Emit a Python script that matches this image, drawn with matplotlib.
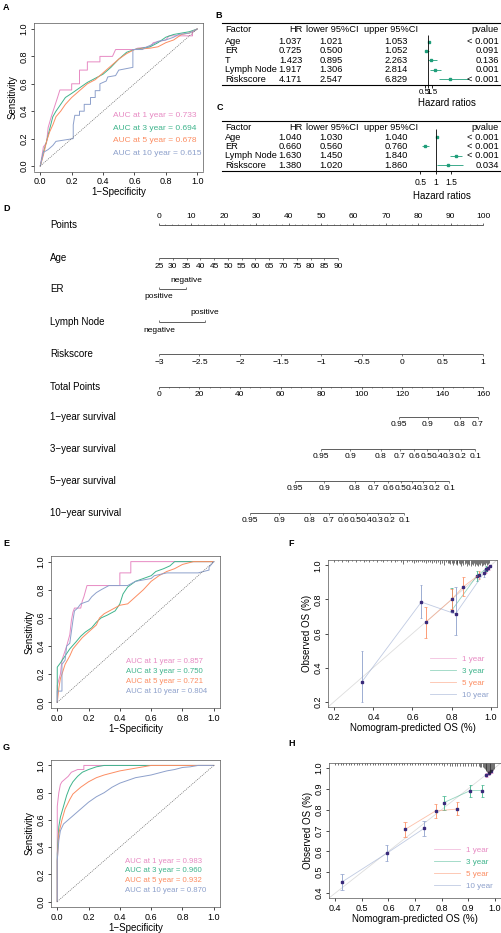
import numpy as np
import matplotlib
matplotlib.use("Agg")
import matplotlib.pyplot as plt
from matplotlib.lines import Line2D

plt.rcParams['font.family'] = ['Liberation Sans', 'DejaVu Sans']
plt.rcParams['axes.linewidth'] = 0.6

W, H = 502, 933
fig = plt.figure(figsize=(W / 100, H / 100), dpi=100)

COLS = {"1": "#E78AC3", "3": "#3FB48C", "5": "#FC8D62", "10": "#8DA0CB"}
TEAL = "#1F9E7A"

# ---------------- data ----------------
# ROC A (training cohort, riskscore)
a_fpr_1 = [0, 0.01, 0.02, 0.04, 0.05, 0.07, 0.09, 0.11, 0.125, 0.20, 0.20, 0.25, 0.25, 0.30, 0.30, 0.38, 0.38, 0.46, 0.48, 0.60, 0.62, 0.70, 0.72, 0.80, 0.82, 0.97, 0.97, 1]
a_tpr_1 = [0, 0.07, 0.14, 0.17, 0.28, 0.36, 0.43, 0.50, 0.555, 0.555, 0.60, 0.60, 0.70, 0.70, 0.76, 0.76, 0.80, 0.80, 0.85, 0.85, 0.86, 0.87, 0.90, 0.92, 0.95, 0.95, 0.98, 1]
a_fpr_3 = [0, 0.02, 0.04, 0.06, 0.08, 0.10, 0.13, 0.16, 0.20, 0.25, 0.30, 0.35, 0.40, 0.45, 0.50, 0.55, 0.60, 0.70, 0.75, 0.80, 0.85, 0.90, 0.95, 1]
a_tpr_3 = [0, 0.10, 0.18, 0.27, 0.36, 0.40, 0.45, 0.50, 0.53, 0.57, 0.61, 0.64, 0.67, 0.72, 0.78, 0.83, 0.85, 0.87, 0.90, 0.94, 0.96, 0.97, 0.98, 1]
a_fpr_5 = [0, 0.02, 0.04, 0.06, 0.08, 0.10, 0.13, 0.16, 0.20, 0.25, 0.30, 0.35, 0.40, 0.45, 0.50, 0.55, 0.60, 0.70, 0.75, 0.80, 0.85, 0.90, 0.95, 1]
a_tpr_5 = [0, 0.08, 0.18, 0.25, 0.30, 0.36, 0.40, 0.45, 0.50, 0.55, 0.60, 0.63, 0.68, 0.73, 0.78, 0.82, 0.85, 0.86, 0.87, 0.90, 0.92, 0.96, 0.97, 1]
a_fpr_10 = [0, 0.01, 0.02, 0.05, 0.08, 0.10, 0.21, 0.21, 0.22, 0.25, 0.25, 0.28, 0.28, 0.32, 0.32, 0.35, 0.35, 0.38, 0.38, 0.42, 0.43, 0.48, 0.50, 0.59, 0.59, 0.65, 0.68, 0.72, 0.75, 0.80, 0.85, 0.88, 0.95, 1]
a_tpr_10 = [0, 0.05, 0.10, 0.12, 0.15, 0.18, 0.20, 0.30, 0.37, 0.37, 0.40, 0.40, 0.45, 0.45, 0.50, 0.50, 0.55, 0.55, 0.60, 0.62, 0.65, 0.66, 0.70, 0.72, 0.85, 0.85, 0.87, 0.89, 0.91, 0.92, 0.94, 0.96, 0.97, 1]
a_auc = ["0.733", "0.694", "0.678", "0.615"]

# ROC E
e_fpr_1 = [0, 0, 0.02, 0.03, 0.06, 0.08, 0.09, 0.10, 0.11, 0.15, 0.16, 0.17, 0.19, 0.40, 0.40, 0.47, 0.47, 1]
e_tpr_1 = [0, 0.12, 0.20, 0.30, 0.40, 0.48, 0.58, 0.64, 0.67, 0.67, 0.72, 0.75, 0.83, 0.83, 0.92, 0.92, 1.0, 1]
e_fpr_3 = [0, 0, 0.02, 0.05, 0.08, 0.12, 0.15, 0.18, 0.22, 0.25, 0.28, 0.32, 0.37, 0.40, 0.42, 0.45, 0.50, 0.55, 0.60, 0.63, 0.68, 0.72, 0.75, 1]
e_tpr_3 = [0, 0.25, 0.28, 0.33, 0.38, 0.43, 0.47, 0.50, 0.53, 0.57, 0.60, 0.62, 0.65, 0.70, 0.77, 0.82, 0.86, 0.88, 0.90, 0.93, 0.95, 0.97, 1.0, 1]
e_fpr_5 = [0, 0.01, 0.02, 0.03, 0.05, 0.08, 0.10, 0.13, 0.16, 0.20, 0.25, 0.27, 0.30, 0.35, 0.40, 0.45, 0.50, 0.55, 0.60, 0.65, 0.70, 0.75, 0.80, 0.87, 1]
e_tpr_5 = [0, 0.10, 0.17, 0.20, 0.27, 0.33, 0.38, 0.42, 0.46, 0.50, 0.55, 0.60, 0.63, 0.66, 0.69, 0.70, 0.75, 0.80, 0.86, 0.90, 0.93, 0.95, 0.98, 1.0, 1]
e_fpr_10 = [0, 0, 0.03, 0.03, 0.05, 0.06, 0.08, 0.09, 0.10, 0.11, 0.13, 0.15, 0.20, 0.22, 0.25, 0.28, 0.33, 0.45, 0.50, 0.55, 0.60, 0.62, 0.70, 0.80, 0.90, 0.97, 0.97, 1]
e_tpr_10 = [0, 0.08, 0.08, 0.27, 0.30, 0.40, 0.42, 0.50, 0.58, 0.65, 0.67, 0.70, 0.72, 0.75, 0.78, 0.80, 0.83, 0.83, 0.86, 0.87, 0.88, 0.90, 0.92, 0.92, 0.92, 0.94, 0.96, 1]
e_auc = ["0.857", "0.750", "0.721", "0.804"]

# ROC G
g_fpr_1 = [0, 0, 0.01, 0.02, 0.03, 0.05, 0.07, 0.09, 0.13, 0.17, 0.17, 1]
g_tpr_1 = [0, 0.70, 0.80, 0.86, 0.88, 0.90, 0.92, 0.95, 0.97, 0.97, 1.0, 1]
g_fpr_3 = [0, 0, 0.01, 0.02, 0.04, 0.06, 0.08, 0.10, 0.13, 0.16, 0.20, 0.25, 0.30, 1]
g_tpr_3 = [0, 0.35, 0.55, 0.62, 0.70, 0.78, 0.84, 0.88, 0.92, 0.95, 0.97, 0.99, 1.0, 1]
g_fpr_5 = [0, 0, 0.01, 0.03, 0.05, 0.08, 0.10, 0.15, 0.20, 0.25, 0.30, 0.35, 0.40, 0.45, 0.50, 0.55, 0.60, 1]
g_tpr_5 = [0, 0.30, 0.50, 0.60, 0.68, 0.75, 0.79, 0.84, 0.88, 0.91, 0.93, 0.945, 0.96, 0.97, 0.98, 0.99, 1.0, 1]
g_fpr_10 = [0, 0, 0.01, 0.02, 0.04, 0.07, 0.10, 0.15, 0.20, 0.25, 0.30, 0.35, 0.40, 0.45, 0.50, 0.55, 0.60, 0.65, 0.70, 0.75, 0.80, 0.85, 0.90, 1]
g_tpr_10 = [0, 0.30, 0.45, 0.52, 0.57, 0.60, 0.63, 0.68, 0.73, 0.77, 0.80, 0.84, 0.87, 0.89, 0.91, 0.92, 0.93, 0.945, 0.96, 0.97, 0.985, 0.99, 1.0, 1]
g_auc = ["0.983", "0.960", "0.932", "0.870"]

# Cox tables
b_factor = ["Age", "ER", "T", "Lymph Node", "Riskscore"]
b_hr = [1.037, 0.725, 1.423, 1.917, 4.171]
b_lo = [1.021, 0.500, 0.895, 1.306, 2.547]
b_hi = [1.053, 1.052, 2.263, 2.814, 6.829]
b_p = ["< 0.001", "0.091", "0.136", "0.001", "< 0.001"]

c_factor = ["Age", "ER", "Lymph Node", "Riskscore"]
c_hr = [1.040, 0.660, 1.630, 1.380]
c_lo = [1.030, 0.560, 1.450, 1.020]
c_hi = [1.040, 0.760, 1.840, 1.860]
c_p = ["< 0.001", "< 0.001", "< 0.001", "0.034"]
hr_ticks = [0.5, 1, 1.5]

# Nomogram
points_ticks = list(range(0, 101, 10))
age_ticks = list(range(25, 91, 5))
age_pts = [0, 55.3]           # points at age 25 and 90
er_levels = ["positive", "negative"]
er_pts = [0, 8.3]
ln_levels = ["negative", "positive"]
ln_pts = [0, 14.2]
risk_ticks = [-3, -2.5, -2, -1.5, -1, -0.5, 0, 0.5, 1]
risk_labels = ["\u22123", "\u22122.5", "\u22122", "\u22121.5", "\u22121", "\u22120.5", "0", "0.5", "1"]
risk_pts = [0, 100]
total_ticks = list(range(0, 161, 20))
surv1_lab = ["0.95", "0.9", "0.8", "0.7"]
surv1_tp = [118.5, 132.8, 148.6, 157.5]
surv_lab = ["0.95", "0.9", "0.8", "0.7", "0.6", "0.5", "0.4", "0.3", "0.2", "0.1"]
surv3_tp = [80.0, 94.4, 109.4, 118.8, 126.0, 132.1, 137.7, 143.1, 148.9, 156.1]
surv5_tp = [67.2, 81.6, 96.6, 106.0, 113.2, 119.3, 124.9, 130.3, 136.1, 143.3]
surv10_tp = [45.0, 59.4, 74.4, 83.8, 91.0, 97.1, 102.7, 108.1, 113.9, 121.1]

# Calibration F (pred, obs, lower, upper)
f_pred_1 = [0.975, 0.988, 0.996]
f_obs_1 = [0.972, 0.985, 0.996]
f_lo_1 = [0.955, 0.975, 0.99]
f_hi_1 = [0.99, 0.995, 1.0]
f_pred_3 = [0.80, 0.93, 0.975]
f_obs_3 = [0.735, 0.94, 0.98]
f_lo_3 = [0.73, 0.91, 0.965]
f_hi_3 = [0.865, 0.965, 0.995]
f_pred_5 = [0.667, 0.80, 0.86, 0.94]
f_obs_5 = [0.665, 0.80, 0.875, 0.945]
f_lo_5 = [0.575, 0.745, 0.82, 0.92]
f_hi_5 = [0.755, 0.86, 0.935, 0.97]
f_pred_10 = [0.342, 0.645, 0.82, 0.965]
f_obs_10 = [0.317, 0.785, 0.715, 0.955]
f_lo_10 = [0.20, 0.69, 0.59, 0.935]
f_hi_10 = [0.50, 0.885, 0.875, 0.975]
f_rug = [0.20, 0.22, 0.24, 0.26, 0.27, 0.29, 0.31, 0.33, 0.35, 0.36, 0.38, 0.40, 0.42, 0.44, 0.45, 0.47, 0.49, 0.51,
         0.52, 0.54, 0.55, 0.57, 0.58, 0.60, 0.61, 0.62, 0.63, 0.64, 0.65, 0.66, 0.67, 0.68, 0.69, 0.70, 0.71, 0.72,
         0.73, 0.74, 0.75, 0.76, 0.77, 0.78, 0.785, 0.79, 0.80, 0.805, 0.81, 0.82, 0.825, 0.83, 0.84, 0.845, 0.85,
         0.855, 0.86, 0.87, 0.875, 0.88, 0.885, 0.89, 0.90, 0.905, 0.91, 0.915, 0.92, 0.925, 0.93, 0.935, 0.94,
         0.945, 0.95, 0.955, 0.96, 0.965, 0.97, 0.975, 0.98, 0.985, 0.99]
f_rug_len = [0.010, 0.008, 0.010, 0.008, 0.010, 0.008, 0.010, 0.008, 0.010, 0.008, 0.010, 0.008, 0.012, 0.008, 0.010,
             0.008, 0.012, 0.010, 0.008, 0.012, 0.022, 0.010, 0.008, 0.012, 0.020, 0.010, 0.012, 0.008, 0.012, 0.010,
             0.015, 0.012, 0.010, 0.015, 0.012, 0.020, 0.012, 0.025, 0.015, 0.030, 0.012, 0.020, 0.015, 0.025, 0.015,
             0.030, 0.020, 0.025, 0.015, 0.030, 0.020, 0.025, 0.035, 0.020, 0.030, 0.025, 0.020, 0.035, 0.025, 0.030,
             0.035, 0.025, 0.030, 0.020, 0.035, 0.025, 0.030, 0.035, 0.025, 0.030, 0.020, 0.035, 0.030, 0.025, 0.030,
             0.020, 0.030, 0.025, 0.020]

# Calibration H
h_pred_1 = [0.968, 0.978, 0.988]
h_obs_1 = [0.965, 0.975, 0.985]
h_lo_1 = [0.955, 0.965, 0.978]
h_hi_1 = [0.975, 0.985, 0.992]
h_pred_3 = [0.809, 0.909, 0.953]
h_obs_3 = [0.834, 0.892, 0.892]
h_lo_3 = [0.80, 0.863, 0.863]
h_hi_3 = [0.866, 0.92, 0.92]
h_pred_5 = [0.6625, 0.7775, 0.859]
h_obs_5 = [0.705, 0.794, 0.803]
h_lo_5 = [0.67, 0.762, 0.775]
h_hi_5 = [0.742, 0.828, 0.836]
h_pred_10 = [0.425, 0.593, 0.734]
h_obs_10 = [0.453, 0.59, 0.71]
h_lo_10 = [0.413, 0.553, 0.675]
h_hi_10 = [0.493, 0.63, 0.747]
h_rug = [0.40, 0.41, 0.42, 0.43, 0.44, 0.45, 0.46, 0.47, 0.48, 0.49, 0.50, 0.51, 0.52, 0.53, 0.54, 0.55, 0.56, 0.57,
         0.58, 0.59, 0.60, 0.61, 0.62, 0.63, 0.64, 0.65, 0.66, 0.67, 0.68, 0.69, 0.70, 0.71, 0.72, 0.73, 0.74, 0.75,
         0.76, 0.77, 0.78, 0.79, 0.80, 0.81, 0.82, 0.83, 0.84, 0.85, 0.86, 0.87, 0.88, 0.89, 0.90, 0.91, 0.92, 0.93,
         0.94, 0.945, 0.95, 0.955, 0.96, 0.963, 0.966, 0.969, 0.972, 0.975, 0.978, 0.981, 0.984, 0.987, 0.99, 0.993,
         0.996]
h_rug_len = [0.008] * 40 + [0.010, 0.012, 0.010, 0.012, 0.015, 0.012, 0.015, 0.012, 0.015, 0.012, 0.015, 0.012, 0.015,
                            0.015, 0.015, 0.018, 0.018, 0.020, 0.025, 0.030, 0.035, 0.040, 0.045, 0.050, 0.052, 0.050,
                            0.048, 0.045, 0.040, 0.035, 0.030]


def ax_px(l, t, r, b):
    return fig.add_axes([l / W, 1 - b / H, (r - l) / W, (b - t) / H])


def ftxt(x, y, s, **kw):
    fig.text(x / W, 1 - y / H, s, **kw)


def fline(x0, x1, y, lw=0.8):
    fig.add_artist(Line2D([x0 / W, x1 / W], [1 - y / H, 1 - y / H], color="black", lw=lw))


def r_style(ax, xlim, ylim, xticks, yticks, fmt="{:.1f}", fs=6.5):
    ax.set_xlim(*xlim)
    ax.set_ylim(*ylim)
    ax.set_xticks(xticks)
    ax.set_yticks(yticks)
    ax.set_xticklabels([fmt.format(v) for v in xticks], fontsize=fs)
    ax.set_yticklabels([fmt.format(v) for v in yticks], fontsize=fs, rotation=90, va="center")
    ax.tick_params(length=2.5, width=0.5, pad=1.5)
    for s in ax.spines.values():
        s.set_linewidth(0.5)
        s.set_color("#555555")


def roc_panel(ax, curves, aucs, tx, ty, dy, fs):
    keys = ["1", "3", "5", "10"]
    for (fx, fy), k in zip(curves, keys):
        ax.plot(fx, fy, color=COLS[k], lw=0.7)
    ax.plot([0, 1], [0, 1], ls=(0, (1.5, 1.5)), color="#666666", lw=0.5)
    for i, (k, a) in enumerate(zip(keys, aucs)):
        ax.text(tx, ty - i * dy, f"AUC at {k} year = {a}", color=COLS[k], fontsize=fs, va="center")
    r_style(ax, (-0.04, 1.04), (-0.04, 1.04), np.arange(0, 1.01, 0.2), np.arange(0, 1.01, 0.2))
    ax.set_xlabel("1\u2212Specificity", fontsize=7, labelpad=1)
    ax.set_ylabel("Sensitivity", fontsize=7, labelpad=1)


# ---------------- A ----------------
ax = ax_px(34, 23.5, 203.5, 171.5)
roc_panel(ax, [(a_fpr_1, a_tpr_1), (a_fpr_3, a_tpr_3), (a_fpr_5, a_tpr_5), (a_fpr_10, a_tpr_10)],
          a_auc, 0.465, 0.37, 0.093, 6)
ftxt(3, 8, "A", fontsize=6.5, fontweight="bold", va="center")

# ---------------- E ----------------
ax = ax_px(51, 556, 220, 708)
roc_panel(ax, [(e_fpr_1, e_tpr_1), (e_fpr_3, e_tpr_3), (e_fpr_5, e_tpr_5), (e_fpr_10, e_tpr_10)],
          e_auc, 0.44, 0.288, 0.071, 5.6)
ftxt(3, 544, "E", fontsize=6.5, fontweight="bold", va="center")

# ---------------- G ----------------
ax = ax_px(51, 760, 220, 907)
roc_panel(ax, [(g_fpr_1, g_tpr_1), (g_fpr_3, g_tpr_3), (g_fpr_5, g_tpr_5), (g_fpr_10, g_tpr_10)],
          g_auc, 0.435, 0.296, 0.071, 5.6)
ftxt(3, 747, "G", fontsize=6.5, fontweight="bold", va="center")


# ---------------- B / C forest tables ----------------
def forest_table(top, row_y, factors, hr, lo, hi, pv, fx0, fx1, xlim, vtop, tpad, lpad, tfs):
    fs = 6.7
    fline(222, 501, top)
    bottom = row_y[-1] + 6
    fline(222, 501, bottom)
    hy = top + 6
    ftxt(225, hy, "Factor", fontsize=fs, va="center")
    ftxt(302, hy, "HR", fontsize=fs, va="center", ha="right")
    ftxt(332, hy, "lower 95%CI", fontsize=fs, va="center", ha="center")
    ftxt(391, hy, "upper 95%CI", fontsize=fs, va="center", ha="center")
    ftxt(499, hy, "pvalue", fontsize=fs, va="center", ha="right")
    for y, f, h, l, u, p in zip(row_y, factors, hr, lo, hi, pv):
        ftxt(225, y, f, fontsize=fs, va="center")
        ftxt(302, y, f"{h:.3f}", fontsize=fs, va="center", ha="right")
        ftxt(331, y, f"{l:.3f}", fontsize=fs, va="center", ha="center")
        ftxt(396, y, f"{u:.3f}", fontsize=fs, va="center", ha="center")
        ftxt(499, y, p, fontsize=fs, va="center", ha="right")
    fa = ax_px(fx0, top, fx1, bottom)
    fa.set_xlim(*xlim)
    fa.set_ylim(bottom, top)
    fa.hlines(row_y, lo, hi, color=TEAL, lw=0.6)
    fa.plot(hr, row_y, "s", color=TEAL, ms=2)
    fa.vlines(1, vtop, bottom, color="black", lw=0.6)
    for s in ["top", "left", "right", "bottom"]:
        fa.spines[s].set_visible(False)
    fa.set_yticks([])
    fa.set_xticks(hr_ticks)
    fa.set_xticklabels(["0.5", "1", "1.5"], fontsize=tfs)
    fa.tick_params(axis="x", length=2.5, width=0.6, pad=tpad)
    fa.set_xlabel("Hazard ratios", fontsize=7, labelpad=lpad)
    fa.patch.set_alpha(0)


forest_table(23.3, [41.7, 50.7, 60.3, 70, 79.3], b_factor, b_hr, b_lo, b_hi, b_p,
             415, 478, (1 - 13.3 / 7, 1 + 49.7 / 7), 35, 0.3, 1.5, 5.8)
ftxt(215, 15, "B", fontsize=6.5, fontweight="bold", va="center")
forest_table(121, [137, 146.5, 156, 165.3], c_factor, c_hr, c_lo, c_hi, c_p,
             405, 478, (1 - 31 / 31, 1 + 42 / 31), 129, 2.5, 2.5, 6.2)
ftxt(217, 108, "C", fontsize=6.5, fontweight="bold", va="center")

# ---------------- D nomogram ----------------
nd = ax_px(0, 200, W, 530)
ppx = 3.24
nd.set_xlim(-159 / ppx, (W - 159) / ppx)
nd.set_ylim(530, 200)
nd.axis("off")
lab_fs = 7
tk_fs = 6
LC = "#444444"


def nomo_axis(y, pos, labels, minor=None, up=False, lab_off=8):
    nd.hlines(y, min(pos), max(pos), color=LC, lw=0.6)
    d = -2.2 if up else 2.2
    nd.vlines(pos, y, y + d, color=LC, lw=0.5)
    if minor is not None:
        nd.vlines(minor, y, y + d * 0.55, color=LC, lw=0.4)
    for p, s in zip(pos, labels):
        nd.text(p, y - lab_off if up else y + lab_off, s, fontsize=tk_fs, ha="center", va="center")


rows = {"Points": 225, "Age": 258, "ER": 289, "Lymph Node": 322, "Riskscore": 354, "Total Points": 387,
        "1\u2212year survival": 417, "3\u2212year survival": 449, "5\u2212year survival": 481,
        "10\u2212year survival": 513}
for name, y in rows.items():
    nd.text(-109 / ppx, y, name, fontsize=lab_fs, va="center", ha="left")

nomo_axis(rows["Points"], points_ticks, [str(v) for v in points_ticks], minor=np.arange(0, 101, 2), up=True)
apos = np.interp(age_ticks, [age_ticks[0], age_ticks[-1]], age_pts)
nomo_axis(rows["Age"], apos, [str(v) for v in age_ticks])
# ER
y = rows["ER"]
nd.hlines(y, er_pts[0], er_pts[1], color=LC, lw=0.6)
nd.vlines(er_pts, y, y - 1.8, color=LC, lw=0.5)
nd.text(er_pts[1], y - 8, er_levels[1], fontsize=tk_fs, ha="center", va="center")
nd.text(er_pts[0], y + 8, er_levels[0], fontsize=tk_fs, ha="center", va="center")
# Lymph node
y = rows["Lymph Node"]
nd.hlines(y, ln_pts[0], ln_pts[1], color=LC, lw=0.6)
nd.vlines(ln_pts, y, y - 1.8, color=LC, lw=0.5)
nd.text(ln_pts[1], y - 9, ln_levels[1], fontsize=tk_fs, ha="center", va="center")
nd.text(ln_pts[0], y + 8, ln_levels[0], fontsize=tk_fs, ha="center", va="center")
rpos = np.interp(risk_ticks, [risk_ticks[0], risk_ticks[-1]], risk_pts)
nomo_axis(rows["Riskscore"], rpos, risk_labels)
tpos = np.array(total_ticks) * 100 / 160
nomo_axis(rows["Total Points"], tpos, [str(v) for v in total_ticks], minor=np.arange(0, 161, 5) * 100 / 160)
for key, tp, labs in [("1", surv1_tp, surv1_lab), ("3", surv3_tp, surv_lab),
                      ("5", surv5_tp, surv_lab), ("10", surv10_tp, surv_lab)]:
    nomo_axis(rows[f"{key}\u2212year survival"], np.array(tp) * 100 / 160, labs)
ftxt(3, 208, "D", fontsize=6.5, fontweight="bold", va="center")


# ---------------- F / H calibration ----------------
def calib_panel(ax, series, rug, rug_len, lims, ticks, fmt):
    keys = ["1", "3", "5", "10"]
    ax.plot(lims, lims, color="#dddddd", lw=0.6)
    for (p, o, l, u), k in zip(series, keys):
        ax.plot(p, o, color=COLS[k], lw=0.6, alpha=0.55, label=f"{k} year")
        ax.vlines(p, l, u, color=COLS[k], lw=0.6)
        ax.hlines(l, np.array(p) - 0.006, np.array(p) + 0.006, color=COLS[k], lw=0.5)
        ax.hlines(u, np.array(p) - 0.006, np.array(p) + 0.006, color=COLS[k], lw=0.5)
        ax.plot(p, o, "s", color="#3a2a7a", ms=2)
    top = lims[1]
    ax.vlines(rug, top - np.array(rug_len), top, color="#222222", lw=0.45)
    r_style(ax, lims, lims, ticks, ticks, fmt=fmt, fs=6.5)
    ax.legend(loc="lower right", frameon=False, fontsize=5.8, handlelength=3.2, labelspacing=0.55,
              borderaxespad=0.6, labelcolor="linecolor")
    ax.set_xlabel("Nomogram-predicted OS (%)", fontsize=7, labelpad=1)
    ax.set_ylabel("Observed OS (%)", fontsize=7, labelpad=1)


ax = ax_px(328, 560, 497, 707)
calib_panel(ax, [(f_pred_1, f_obs_1, f_lo_1, f_hi_1), (f_pred_3, f_obs_3, f_lo_3, f_hi_3),
                 (f_pred_5, f_obs_5, f_lo_5, f_hi_5), (f_pred_10, f_obs_10, f_lo_10, f_hi_10)],
            f_rug, f_rug_len, (0.168, 1.032), [0.2, 0.4, 0.6, 0.8, 1.0], "{:.1f}")
ftxt(288, 543, "F", fontsize=6.5, fontweight="bold", va="center")

ax = ax_px(329, 763, 501, 898)
calib_panel(ax, [(h_pred_1, h_obs_1, h_lo_1, h_hi_1), (h_pred_3, h_obs_3, h_lo_3, h_hi_3),
                 (h_pred_5, h_obs_5, h_lo_5, h_hi_5), (h_pred_10, h_obs_10, h_lo_10, h_hi_10)],
            h_rug, h_rug_len, (0.376, 1.024), [0.4, 0.5, 0.6, 0.7, 0.8, 0.9, 1.0], "{:.1f}")
ftxt(288, 744, "H", fontsize=6.5, fontweight="bold", va="center")

fig.savefig("out.png", dpi=100)
